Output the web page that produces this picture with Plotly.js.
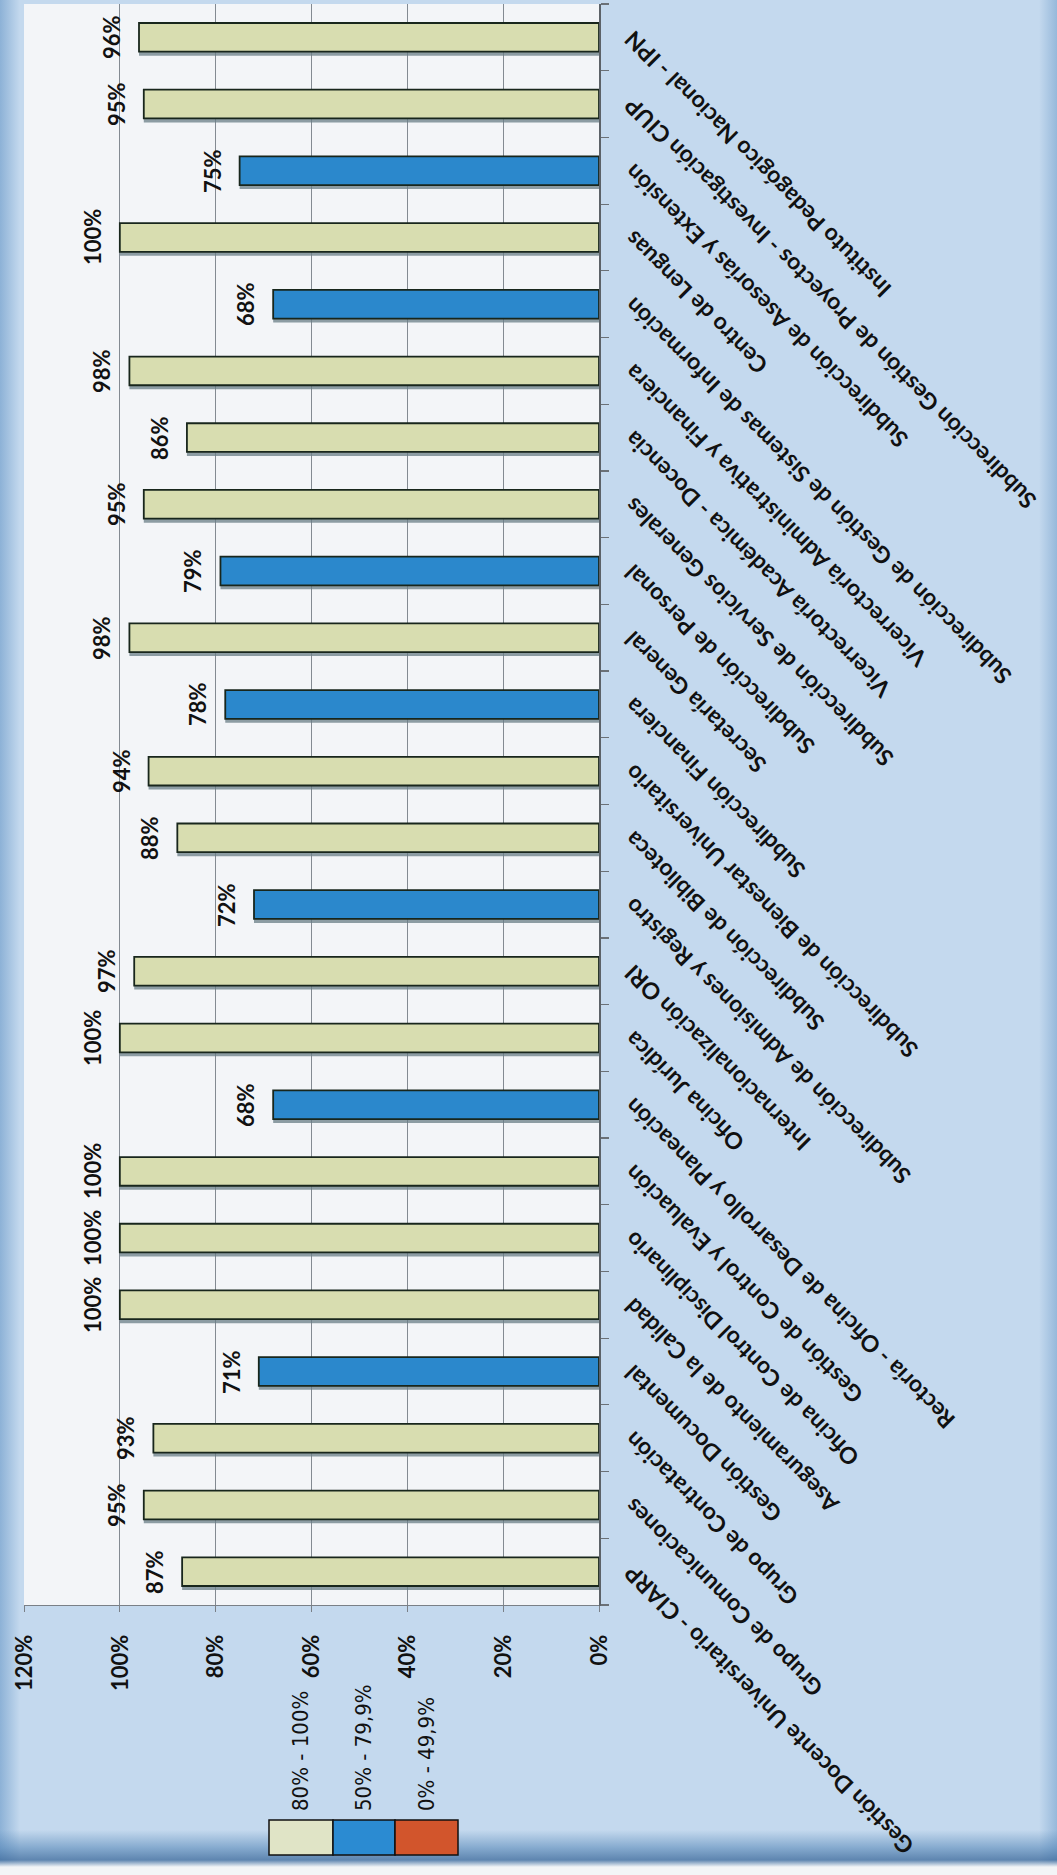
<!DOCTYPE html>
<html>
<head>
<meta charset="utf-8">
<script src="https://cdn.plot.ly/plotly-3.0.1.min.js"></script>
<style>
html,body{margin:0;padding:0;width:1057px;height:1875px;overflow:hidden;}
body{
  background:
    linear-gradient(to bottom, rgba(0,0,0,0) 1830px, rgba(80,130,180,0.55) 1848px, rgba(60,105,155,0.75) 1860px, #f3f5f7 1867px),
    linear-gradient(to right, rgba(95,145,195,0.55) 0px, rgba(0,0,0,0) 20px),
    linear-gradient(to left, rgba(95,145,195,0.45) 0px, rgba(0,0,0,0) 18px),
    #c4d9ee;
}
#chart{position:absolute;left:0;top:0;width:1875px;height:1057px;transform-origin:0 0;transform:translate(0px,1875px) rotate(-90deg);}
</style>
</head>
<body>
<div id="chart"></div>
<script>
// ---- data ----
const categories = [
  "Gestión Docente Universitario - CIARP",
  "Grupo de Comunicaciones",
  "Grupo de Contratación",
  "Gestión Documental",
  "Aseguramiento de la Calidad",
  "Oficina de Control Disciplinario",
  "Gestión de Control y Evaluación",
  "Rectoría - Oficina de Desarrollo y Planeación",
  "Oficina Jurídica",
  "Internacionalización ORI",
  "Subdirección de Admisiones y Registro",
  "Subdirección de Biblioteca",
  "Subdirección de Bienestar Universitario",
  "Subdirección Financiera",
  "Secretaría General",
  "Subdirección de Personal",
  "Subdirección de Servicios Generales",
  "Vicerrectoría Académica - Docencia",
  "Vicerrectoría Administrativa y Financiera",
  "Subdirección de Gestión de Sistemas de Información",
  "Centro de Lenguas",
  "Subdirección de Asesorías y Extensión",
  "Subdirección Gestión de Proyectos - Investigación CIUP",
  "Instituto Pedagógico Nacional - IPN"
];
const values = [87, 95, 93, 71, 100, 100, 100, 68, 100, 97, 72, 88, 94, 78, 98, 79, 95, 86, 98, 68, 100, 75, 95, 96];
const legendLabels = ["80% - 100%", "50% - 79,9%", "0% - 49,9%"];
const legendThresholds = [80, 50, 0];
const valueTicks = [0, 20, 40, 60, 80, 100, 120];

// ---- styles ----
const palette = ["#d8ddb0", "#2b88cc", "#d2552c"];
const legendPalette = ["#e0e4c6", "#2b8bd2", "#d2552c"];
function colorFor(v){ for (let i=0;i<legendThresholds.length;i++){ if (v>=legendThresholds[i]) return palette[i]; } return palette[2]; }

const W = 1875, H = 1057;
const M = {l:270, r:4, t:24, b:458};
const pw = W - M.l - M.r, ph = H - M.t - M.b;
const px2x = u => (u - M.l) / pw;
const px2y = v => (H - M.b - v) / ph;

const shadow = {
  type:'bar', x:categories, y:values, width:0.43, offset:-0.275,
  marker:{color:'rgba(105,125,135,0.75)', line:{width:0}},
  hoverinfo:'skip'
};
const bars = {
  type:'bar', x:categories, y:values, width:0.43, offset:-0.215,
  marker:{color:values.map(colorFor), line:{color:'#18261c', width:1.8}},
  hoverinfo:'skip'
};

const annotations = values.map((v,i)=>({
  x:categories[i], y:v, xref:'x', yref:'y', text:v+'%', showarrow:false,
  yanchor:'bottom', xanchor:'center', yshift:12,
  font:{family:'Lato, sans-serif', size:22, color:'#111', weight:700}
}));

// legend (swatches + labels)
const swV = [[269,333],[333,395],[395,458]];
const shapes = [];
legendLabels.forEach((lab,i)=>{
  shapes.push({type:'rect', xref:'paper', yref:'paper',
    x0:px2x(20), x1:px2x(55), y0:px2y(swV[i][1]), y1:px2y(swV[i][0]),
    fillcolor:legendPalette[i], line:{color:'#111', width:1.5}});
  annotations.push({xref:'paper', yref:'paper', x:px2x(62), y:px2y((swV[i][0]+swV[i][1])/2),
    xanchor:'left', yanchor:'middle', showarrow:false, text:lab,
    font:{family:"'Liberation Sans Narrow', 'DejaVu Sans Condensed', 'Liberation Sans', sans-serif", size:22, color:'#111'}});
});

const layout = {
  width:W, height:H,
  margin:{l:M.l, r:M.r, t:M.t, b:M.b, pad:0},
  paper_bgcolor:'rgba(0,0,0,0)',
  plot_bgcolor:'#f3f5f8',
  barmode:'overlay',
  showlegend:false,
  font:{family:'Lato, sans-serif', size:22, color:'#111'},
  xaxis:{
    type:'category', range:[-0.5, categories.length-0.5], tickmode:'linear', dtick:1,
    tickangle:-45, ticks:'outside', ticklen:8, tickcolor:'#6a7076', tickwidth:1.2, tickson:'boundaries',
    showline:true, linecolor:'#5c6268', linewidth:1.5, showgrid:false, automargin:false,
    ticklabelstandoff:10,
    tickfont:{family:'Lato, sans-serif', size:23, color:'#111', weight:700}
  },
  yaxis:{
    range:[0,120], tickmode:'array', tickvals:valueTicks, ticktext:valueTicks.map(t=>t+'%'),
    showgrid:true, gridcolor:'#838a92', gridwidth:1, zeroline:false,
    showline:true, linecolor:'#7a8087', linewidth:1.2, ticks:'outside', ticklen:6, tickcolor:'#7a8087',
    automargin:false, ticklabelstandoff:18,
    tickfont:{family:'Lato, sans-serif', size:22, color:'#111', weight:700}
  },
  annotations:annotations,
  shapes:shapes
};

Plotly.newPlot('chart', [shadow, bars], layout, {staticPlot:true, displayModeBar:false});
</script>
</body>
</html>
